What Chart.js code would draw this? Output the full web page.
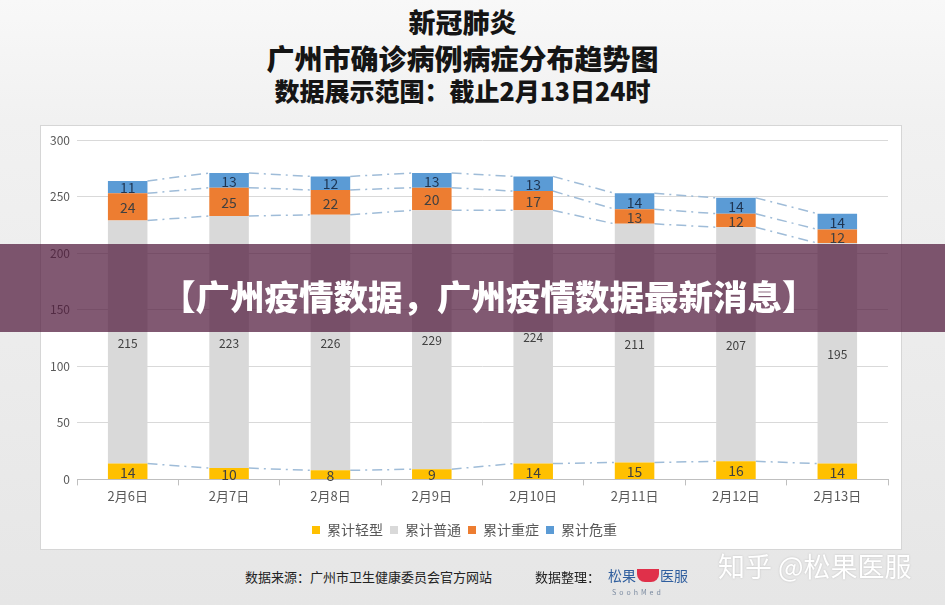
<!DOCTYPE html>
<html>
<head>
<meta charset="utf-8">
<script src="https://cdn.jsdelivr.net/npm/chart.js@4.4.0/dist/chart.umd.min.js"></script>
<style>
  body { margin: 0; width: 945px; height: 605px; overflow: hidden; position: relative;
         background: linear-gradient(#f8f8f8 0%, #f1f1f1 20%, #e6e6e6 100%);
         font-family: "Noto Sans CJK SC", "Noto Sans", sans-serif; }
  .title { position: absolute; left: -10px; width: 945px; text-align: center; color: #151515;
           font-weight: 900; }
  #box { position: absolute; left: 40px; top: 125px; width: 862px; height: 425px;
         box-sizing: border-box; border: 1px solid #d6d6d6; background: #fff; }
  #banner { position: absolute; left: 0; top: 244px; width: 945px; height: 88px;
            background: rgba(80, 25, 60, 0.72); }
  #banner span { position: absolute; left: 161px; top: 29px; white-space: nowrap;
                 color: #fff; font-size: 34.5px; font-weight: 900; line-height: 44px; }
  .foot { position: absolute; top: 568px; font-size: 13px; color: #222; line-height: 18px; }
  #mark { position: absolute; left: 718px; top: 546px; font-size: 27px; color: #fff;
          text-shadow: 0 0 2px #bdbdbd; line-height: 40px; }
</style>
</head>
<body>
<div class="title" style="top:4px;font-size:27px;line-height:36px;">新冠肺炎</div>
<div class="title" style="top:40px;font-size:28px;line-height:36px;">广州市确诊病例病症分布趋势图</div>
<div class="title" style="top:72px;font-size:25px;line-height:36px;">数据展示范围：截止2月13日24时</div>

<div id="box"><canvas id="chart" width="860" height="423"></canvas></div>

<div id="banner"><span>【广州疫情数据，广州疫情数据最新消息】</span></div>

<div class="foot" style="left:245px;">数据来源：广州市卫生健康委员会官方网站</div>
<div class="foot" style="left:535px;">数据整理：</div>
<div class="foot" style="left:608px;top:566px;color:#2f5e9e;font-size:14px;">松果<span style="display:inline-block;width:22px;height:13px;background:#e0304a;border-radius:0 0 8px 8px;vertical-align:-1px;margin:0 1px;"></span>医服</div>
<div class="foot" style="left:612px;top:583px;font-size:7px;color:#7a8aa0;letter-spacing:3px;">SoohMed</div>
<div id="mark">知乎 @松果医服</div>

<script>
const labels = ['2月6日', '2月7日', '2月8日', '2月9日', '2月10日', '2月11日', '2月12日', '2月13日'];
const mild = [14, 10, 8, 9, 14, 15, 16, 14];
const common = [215, 223, 226, 229, 224, 211, 207, 195];
const severe = [24, 25, 22, 20, 17, 13, 12, 12];
const critical = [11, 13, 12, 13, 13, 14, 14, 14];
const yTicks = [0, 50, 100, 150, 200, 250, 300];

// Excel style series lines between neighbouring bars
const seriesLines = {
    id: 'seriesLines',
    beforeDatasetsDraw(chart) {
        const ctx = chart.ctx;
        ctx.save();
        ctx.strokeStyle = '#9fbcd8';
        ctx.lineWidth = 1.5;
        ctx.setLineDash([10, 5, 2, 5]);
        chart.data.datasets.forEach((ds, i) => {
            const bars = chart.getDatasetMeta(i).data;
            for (let j = 0; j < bars.length - 1; j++) {
                const a = bars[j], b = bars[j + 1];
                ctx.beginPath();
                ctx.moveTo(a.x + a.width / 2, a.y);
                ctx.lineTo(b.x - b.width / 2, b.y);
                ctx.stroke();
            }
        });
        ctx.restore();
    }
};

// value labels in the middle of each segment
const valueLabels = {
    id: 'valueLabels',
    afterDatasetsDraw(chart) {
        const ctx = chart.ctx;
        ctx.save();
        ctx.textAlign = 'center';
        ctx.textBaseline = 'middle';
        chart.data.datasets.forEach((ds, i) => {
            chart.getDatasetMeta(i).data.forEach((bar, j) => {
                const big = i !== 1;
                ctx.font = (big ? '14px' : '12px') + ' "Noto Sans CJK SC", sans-serif';
                ctx.fillStyle = i === 3 ? '#1f3552' : '#404040';
                ctx.fillText(ds.data[j], bar.x, (bar.y + bar.base) / 2 + 1);
            });
        });
        ctx.restore();
    }
};

const ctx = document.getElementById('chart').getContext('2d');
new Chart(ctx, {
    type: 'bar',
    data: {
        labels: labels,
        datasets: [
            { label: '累计轻型', data: mild, backgroundColor: '#ffc000' },
            { label: '累计普通', data: common, backgroundColor: '#d9d9d9' },
            { label: '累计重症', data: severe, backgroundColor: '#ed7d31' },
            { label: '累计危重', data: critical, backgroundColor: '#5b9bd5' }
        ]
    },
    options: {
        responsive: false,
        animation: false,
        layout: { padding: { top: 6, right: 13, left: 0, bottom: 2 } },
        datasets: { bar: { barPercentage: 0.39, categoryPercentage: 1 } },
        plugins: {
            legend: {
                position: 'bottom',
                labels: {
                    boxWidth: 8, boxHeight: 8, padding: 7, color: '#595959',
                    font: { size: 14, family: '"Noto Sans CJK SC", sans-serif' }
                }
            },
            tooltip: { enabled: false }
        },
        scales: {
            x: {
                stacked: true,
                afterFit(scale) { scale.height += 9; },
                grid: { offset: true, drawOnChartArea: false, tickLength: 6, color: '#bfbfbf' },
                border: { color: '#bfbfbf' },
                ticks: { color: '#595959', padding: 3, font: { size: 13, family: '"Noto Sans CJK SC", sans-serif' } }
            },
            y: {
                stacked: true,
                min: 0, max: 300,
                afterFit(scale) { scale.width = 36; },
                afterBuildTicks(scale) { scale.ticks = yTicks.map(v => ({ value: v })); },
                grid: { color: '#d9d9d9', drawTicks: false },
                border: { display: false },
                ticks: { color: '#595959', padding: 7, font: { size: 12, family: '"Noto Sans CJK SC", sans-serif' } }
            }
        }
    },
    plugins: [seriesLines, valueLabels]
});
</script>
</body>
</html>
